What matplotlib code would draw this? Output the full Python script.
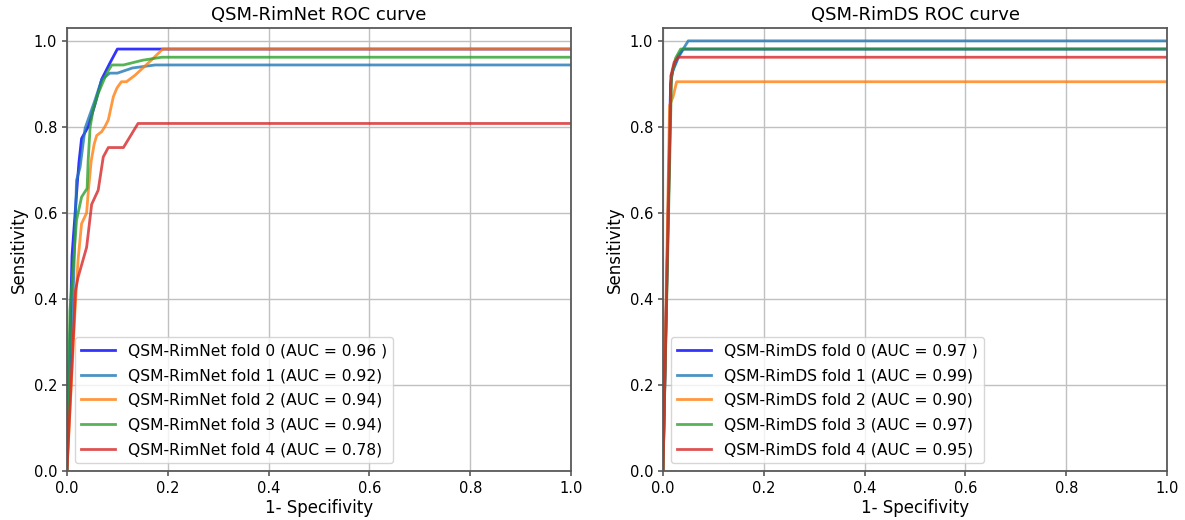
import numpy as np
import matplotlib
matplotlib.use('Agg')
import matplotlib.pyplot as plt

# ---- data ----
colors = ['blue', 'tab:blue', 'tab:orange', 'tab:green', 'tab:red']

# QSM-RimNet folds
net_auc = ['0.96 ', '0.92', '0.94', '0.94', '0.78']
net_fpr = [
    [0.0, 0.010, 0.021, 0.024, 0.029, 0.042, 0.055, 0.069, 0.085, 0.100, 1.0],
    [0.0, 0.012, 0.019, 0.026, 0.036, 0.055, 0.069, 0.085, 0.100, 0.130, 0.175, 1.0],
    [0.0, 0.016, 0.022, 0.029, 0.039, 0.042, 0.048, 0.054, 0.059, 0.069, 0.075,
     0.082, 0.092, 0.099, 0.108, 0.118, 0.135, 0.168, 0.190, 1.0],
    [0.0, 0.006, 0.019, 0.029, 0.040, 0.042, 0.046, 0.052, 0.062, 0.079, 0.089,
     0.112, 0.150, 0.188, 1.0],
    [0.0, 0.017, 0.022, 0.039, 0.049, 0.062, 0.072, 0.082, 0.112, 0.141, 1.0],
]
net_tpr = [
    [0.0, 0.50, 0.676, 0.72, 0.773, 0.80, 0.85, 0.911, 0.948, 0.981, 0.981],
    [0.0, 0.40, 0.676, 0.706, 0.797, 0.86, 0.91, 0.925, 0.925, 0.937, 0.944, 0.944],
    [0.0, 0.373, 0.49, 0.575, 0.60, 0.645, 0.72, 0.76, 0.78, 0.789, 0.80,
     0.816, 0.87, 0.89, 0.905, 0.905, 0.92, 0.956, 0.981, 0.981],
    [0.0, 0.373, 0.583, 0.637, 0.657, 0.72, 0.80, 0.84, 0.878, 0.925, 0.944,
     0.944, 0.955, 0.962, 0.962],
    [0.0, 0.42, 0.45, 0.52, 0.62, 0.653, 0.73, 0.752, 0.752, 0.808, 0.808],
]

# QSM-RimDS folds
ds_auc = ['0.97 ', '0.99', '0.90', '0.97', '0.95']
ds_fpr = [
    [0.0, 0.015, 0.020, 0.030, 0.040, 1.0],
    [0.0, 0.016, 0.030, 0.040, 0.050, 1.0],
    [0.0, 0.013, 0.020, 0.027, 1.0],
    [0.0, 0.017, 0.025, 0.035, 1.0],
    [0.0, 0.016, 0.022, 0.030, 1.0],
]
ds_tpr = [
    [0.0, 0.90, 0.935, 0.965, 0.981, 0.981],
    [0.0, 0.92, 0.96, 0.981, 1.0, 1.0],
    [0.0, 0.85, 0.87, 0.905, 0.905],
    [0.0, 0.92, 0.96, 0.981, 0.981],
    [0.0, 0.92, 0.95, 0.962, 0.962],
]


def roc_panel(ax, fprs, tprs, aucs, name):
    for i in range(len(fprs)):
        ax.plot(fprs[i], tprs[i], color=colors[i], lw=2, alpha=0.8,
                label='%s fold %d (AUC = %s)' % (name, i, aucs[i]))
    ax.set_xlim(0, 1.0)
    ax.set_ylim(0, 1.03)
    ax.set_xticks(np.arange(0, 1.01, 0.2))
    ax.set_yticks(np.arange(0, 1.01, 0.2))
    ax.tick_params(labelsize=10.5, color='0.35', width=1.2)
    ax.grid(True, color='#c0c0c0', lw=1)
    for s in ax.spines.values():
        s.set_color('0.35')
        s.set_linewidth(1.3)
    ax.set_xlabel('1- Specifivity', fontsize=12, labelpad=2)
    ax.set_ylabel('Sensitivity', fontsize=12)
    ax.set_title('%s ROC curve' % name, fontsize=13)
    ax.legend(loc='lower left', fontsize=11.2, handlelength=2.2,
              labelspacing=0.62)


fig = plt.figure(figsize=(11.85, 5.2), dpi=100)
ax1 = fig.add_axes([0.0565, 0.0942, 0.4254, 0.852])
ax2 = fig.add_axes([0.5595, 0.0942, 0.4254, 0.852])

roc_panel(ax1, net_fpr, net_tpr, net_auc, 'QSM-RimNet')
roc_panel(ax2, ds_fpr, ds_tpr, ds_auc, 'QSM-RimDS')

plt.savefig('out.png', dpi=100)
plt.close()
